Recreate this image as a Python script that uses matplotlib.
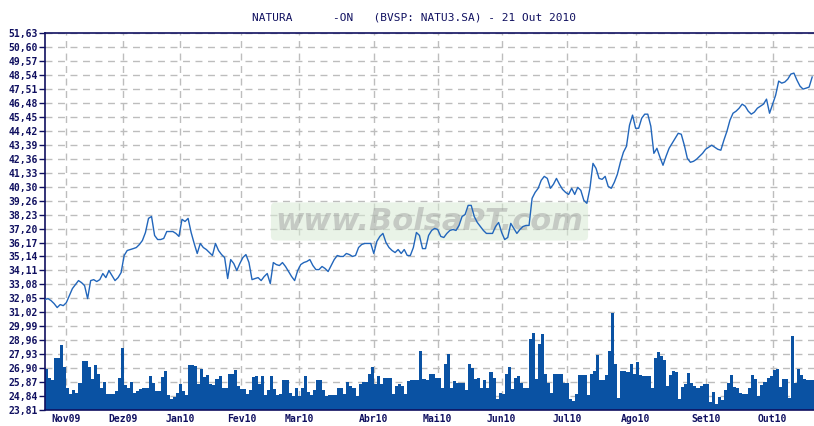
import matplotlib.pyplot as plt
import numpy as np

# daily closing prices (trading days, 22 Oct 2009 .. 21 Oct 2010)
price = [
    31.96, 32.03, 31.88, 31.66, 31.37, 31.59, 31.51, 31.73, 32.25, 32.77,
    33.07, 33.36, 33.21, 32.99, 32.03, 33.36, 33.43, 33.29, 33.43, 33.88,
    33.58, 34.10, 33.73, 33.36, 33.58, 33.95, 35.21, 35.58, 35.65, 35.72,
    35.80, 36.02, 36.32, 36.91, 37.95, 38.09, 36.69, 36.39, 36.39, 36.47,
    36.98, 36.98, 36.98, 36.84, 36.62, 37.88, 37.72, 37.95, 36.91, 36.10,
    35.36, 36.10, 35.80, 35.65, 35.43, 35.21, 36.10, 35.58, 35.28, 35.06,
    33.51, 34.91, 34.62, 34.10, 34.62, 35.06, 35.28, 34.69, 33.43, 33.51,
    33.58, 33.36, 33.66, 33.88, 33.14, 34.69, 34.54, 34.47, 34.69, 34.40,
    34.03, 33.66, 33.36, 34.10, 34.54, 34.69, 34.77, 34.91, 34.47, 34.17,
    34.17, 34.40, 34.25, 34.03, 34.47, 34.91, 35.21, 35.14, 35.14, 35.36,
    35.28, 35.14, 35.21, 35.80, 36.02, 36.10, 36.10, 36.10, 35.36, 36.25,
    36.62, 36.84, 36.17, 35.80, 35.58, 35.43, 35.65, 35.36, 35.65, 35.21,
    35.21, 35.80, 36.91, 36.69, 35.72, 35.72, 36.69, 37.06, 37.21, 37.13,
    36.62, 36.54, 36.84, 37.06, 37.13, 37.06, 37.43, 38.09, 38.24, 38.91,
    38.91, 38.09, 37.65, 37.35, 37.06, 36.84, 36.84, 36.84, 37.35, 37.65,
    36.91, 36.39, 36.54, 37.58, 37.21, 36.84, 37.13, 37.35, 37.43, 37.43,
    39.43, 39.87, 40.17, 40.76, 41.05, 40.90, 40.17, 40.46, 40.90, 40.46,
    40.09, 39.87, 39.72, 40.17, 39.72, 40.24, 40.02, 39.28, 39.06, 40.17,
    42.01, 41.64, 40.90, 40.83, 41.05, 40.31, 40.17, 40.61, 41.20, 42.09,
    42.83, 43.27, 44.83, 45.57, 44.60, 44.60, 45.34, 45.64, 45.64, 44.75,
    42.75, 43.12, 42.46, 41.87, 42.53, 43.12, 43.49, 43.86, 44.23, 44.16,
    43.35, 42.38, 42.09, 42.16, 42.31, 42.53, 42.75, 43.05, 43.20, 43.35,
    43.20, 43.05, 42.98, 43.72, 44.38, 45.20, 45.71, 45.86, 46.08, 46.38,
    46.23, 45.86, 45.64, 45.79, 46.08, 46.23, 46.38, 46.75, 45.71, 46.38,
    47.04, 48.08, 47.93, 48.01, 48.23, 48.60, 48.67, 48.15, 47.71, 47.49,
    47.56, 47.64, 48.38,
]

# daily volume, relative units
volume = [
    41, 32, 30, 52, 52, 65, 43, 22, 16, 20, 17, 27, 49, 49, 43, 31, 45, 36, 22, 28,
    16, 16, 16, 19, 32, 62, 25, 22, 28, 17, 19, 21, 22, 22, 34, 27, 19, 19, 33, 39,
    15, 11, 13, 17, 26, 19, 15, 45, 45, 44, 26, 41, 33, 35, 26, 25, 31, 34, 22, 22,
    36, 36, 40, 24, 21, 21, 16, 20, 33, 34, 26, 34, 15, 20, 34, 21, 15, 16, 30, 30,
    17, 14, 22, 14, 22, 34, 18, 15, 20, 30, 30, 20, 14, 15, 15, 15, 22, 22, 16, 28,
    24, 22, 14, 26, 28, 28, 36, 43, 26, 34, 26, 32, 32, 32, 16, 24, 26, 24, 16, 29,
    30, 30, 30, 59, 31, 30, 36, 36, 32, 32, 22, 46, 56, 22, 29, 27, 27, 27, 20, 46,
    42, 31, 32, 22, 30, 22, 38, 32, 11, 17, 16, 36, 43, 21, 32, 34, 27, 22, 22, 71,
    77, 31, 66, 76, 36, 27, 17, 36, 36, 36, 27, 27, 11, 9, 16, 35, 35, 35, 15, 36,
    39, 55, 30, 30, 35, 59, 97, 46, 12, 39, 39, 38, 46, 36, 48, 35, 34, 34, 34, 22,
    52, 58, 54, 50, 24, 35, 39, 38, 11, 23, 26, 37, 27, 24, 22, 24, 26, 26, 8, 18,
    6, 13, 10, 20, 27, 35, 23, 22, 17, 16, 16, 22, 35, 31, 14, 25, 28, 32, 34, 40,
    41, 23, 31, 31, 12, 74, 27, 41, 35, 31, 30, 30, 30,
]

# month labels and the trading-day index where each month starts
month_labels = ['Nov09', 'Dez09', 'Jan10', 'Fev10', 'Mar10', 'Abr10',
                'Mai10', 'Jun10', 'Jul10', 'Ago10', 'Set10', 'Out10']
month_idx = [7, 25.5, 44.5, 64.5, 83.5, 108, 129, 150, 171.5, 194, 217, 239]

# price axis ticks as printed on the chart
y_ticks = [23.81, 24.84, 25.87, 26.90, 27.93, 28.96, 29.99, 31.02, 32.05, 33.08,
           34.11, 35.14, 36.17, 37.20, 38.23, 39.26, 40.30, 41.33, 42.36, 43.39,
           44.42, 45.45, 46.48, 47.51, 48.54, 49.57, 50.60, 51.63]

navy = '#101060'
bar_col = '#0A52A3'
line_col = '#2266BB'
grid_col = '#BDBDBD'

plt.rcParams['font.family'] = ['DejaVu Sans Mono']

fig = plt.figure(figsize=(8.14, 4.26), dpi=100)
ax = fig.add_axes([45 / 814, 16 / 426, 769 / 814, 377 / 426])

days = np.arange(len(price))
y_min = y_ticks[0]
vol_scale = (y_ticks[-1] - y_ticks[0]) / (len(y_ticks) - 1) / 13.93  # volume units -> price units

ax.bar(days, np.array(volume) * vol_scale, width=1.0, bottom=y_min,
       align='edge', color=bar_col, linewidth=0, zorder=2)
ax.plot(days, price, color=line_col, lw=1.0, zorder=3)

ax.set_yticks(y_ticks)
ax.set_yticklabels([f'{v:.2f}'.replace('.', ',') for v in y_ticks],
                   fontsize=7, fontweight='bold', color=navy)
ax.set_ylim(y_min, y_ticks[-1])
ax.set_xlim(0, len(price) - 0.4)

ax.set_xticks(month_idx)
ax.set_xticklabels(month_labels, fontsize=7, fontweight='bold', color=navy)

ax.tick_params(axis='y', length=4, width=1, color=navy, pad=1)
ax.tick_params(axis='x', length=0, pad=3)

ax.grid(True, color=grid_col, lw=1, linestyle=(0, (5, 4)), zorder=0)
ax.set_axisbelow(True)

for s in ['left', 'bottom', 'top']:
    ax.spines[s].set_color(navy)
    ax.spines[s].set_linewidth(1.2)
ax.spines['right'].set_visible(False)

# watermark
ax.text(0.5, 0.50, 'www.BolsaPT.com', transform=ax.transAxes,
        fontsize=22, fontweight='bold', style='italic', family='DejaVu Sans',
        color='#9A9A9A', alpha=0.45, ha='center', va='center', zorder=1,
        bbox=dict(boxstyle='round,pad=0.15', fc='#D8EAD4', ec='none', alpha=0.55))

fig.text(414 / 814, 1 - 17 / 426,
         'NATURA      -ON   (BVSP: NATU3.SA) - 21 Out 2010',
         ha='center', va='center', fontsize=8, color=navy)

fig.savefig('out.png', dpi=100)
